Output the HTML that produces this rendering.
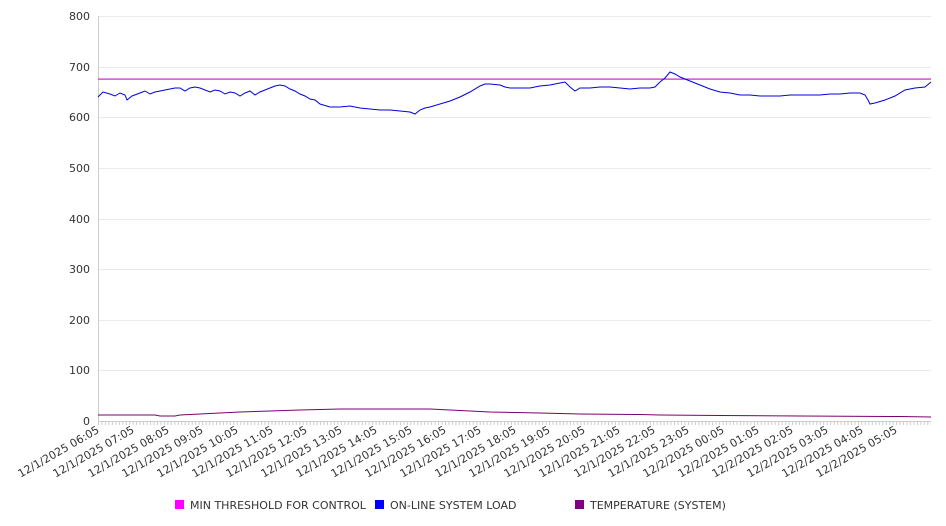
<!DOCTYPE html>
<html><head><meta charset="utf-8"><style>
html,body{margin:0;padding:0;background:#fff;}
svg{display:block;font-family:"DejaVu Sans","Liberation Sans",sans-serif;}
</style></head><body>
<svg width="946" height="526" viewBox="0 0 946 526" xmlns="http://www.w3.org/2000/svg">
<defs>
<pattern id="tk" x="98" y="0" width="3.47" height="10" patternUnits="userSpaceOnUse">
<line x1="0.5" y1="0" x2="0.5" y2="10" stroke="#ccc" stroke-width="1"/>
</pattern>
</defs>
<g stroke="#ebebeb" stroke-width="1">
<line x1="98" y1="16.5" x2="931" y2="16.5"/>
<line x1="98" y1="67.5" x2="931" y2="67.5"/>
<line x1="98" y1="117.5" x2="931" y2="117.5"/>
<line x1="98" y1="168.5" x2="931" y2="168.5"/>
<line x1="98" y1="219.5" x2="931" y2="219.5"/>
<line x1="98" y1="269.5" x2="931" y2="269.5"/>
<line x1="98" y1="320.5" x2="931" y2="320.5"/>
<line x1="98" y1="370.5" x2="931" y2="370.5"/>
</g>
<line x1="98.5" y1="16" x2="98.5" y2="421" stroke="#ccc"/>
<line x1="98" y1="421.5" x2="931" y2="421.5" stroke="#ccc"/>
<rect x="98" y="421" width="833" height="4" fill="url(#tk)"/>
<g font-size="11" fill="#333" text-anchor="end">
<text x="90" y="20">800</text><text x="90" y="71">700</text><text x="90" y="121">600</text>
<text x="90" y="172">500</text><text x="90" y="223">400</text><text x="90" y="273">300</text>
<text x="90" y="324">200</text><text x="90" y="374">100</text><text x="90" y="425">0</text>
</g>
<rect x="98" y="78.5" width="833" height="1.2" fill="#d41cd4"/>
<polyline fill="none" stroke="#0000dd" stroke-width="1" points="98,97 103,92 110,94 115,96 120,93 125,95 127,100 132,96 140,93 145,91 150,94 155,92 160,91 165,90 170,89 175,88 180,88 185,91 190,88 195,87 200,88 205,90 210,92 215,90 220,91 225,94 230,92 235,93 240,96 245,93 250,91 255,95 260,92 265,90 270,88 275,86 280,85 285,86 290,89 295,91 300,94 305,96 310,99 315,100 320,104 330,107 340,107 350,106 355,107 360,108 370,109 380,110 390,110 400,111 410,112 415,114 420,110 425,108 430,107 440,104 450,101 460,97 470,92 480,86 485,84 490,84 500,85 505,87 510,88 520,88 530,88 540,86 550,85 560,83 565,82 570,87 575,91 580,88 590,88 600,87 610,87 620,88 630,89 640,88 650,88 655,87 660,82 665,78 670,72 675,74 680,77 690,81 700,85 710,89 720,92 730,93 740,95 750,95 760,96 770,96 780,96 790,95 800,95 810,95 820,95 830,94 840,94 850,93 860,93 865,95 868,100 870,104 875,103 885,100 895,96 905,90 915,88 925,87 931,82"/>
<polyline fill="none" stroke="#7a0070" stroke-width="1" points="98,415 155,415 160,416 175,416 180,415 200,414 220,413 240,412 270,411 300,410 340,409 430,409 460,410.5 490,412 540,413 580,414 640,414.5 660,415 720,415.5 800,416 900,416.5 931,417"/>
<g font-size="11" fill="#333" text-anchor="end">
<text transform="translate(100,432) rotate(-30)">12/1/2025 06:05</text>
<text transform="translate(135,432) rotate(-30)">12/1/2025 07:05</text>
<text transform="translate(170,432) rotate(-30)">12/1/2025 08:05</text>
<text transform="translate(204,432) rotate(-30)">12/1/2025 09:05</text>
<text transform="translate(239,432) rotate(-30)">12/1/2025 10:05</text>
<text transform="translate(274,432) rotate(-30)">12/1/2025 11:05</text>
<text transform="translate(308,432) rotate(-30)">12/1/2025 12:05</text>
<text transform="translate(343,432) rotate(-30)">12/1/2025 13:05</text>
<text transform="translate(378,432) rotate(-30)">12/1/2025 14:05</text>
<text transform="translate(413,432) rotate(-30)">12/1/2025 15:05</text>
<text transform="translate(447,432) rotate(-30)">12/1/2025 16:05</text>
<text transform="translate(482,432) rotate(-30)">12/1/2025 17:05</text>
<text transform="translate(517,432) rotate(-30)">12/1/2025 18:05</text>
<text transform="translate(551,432) rotate(-30)">12/1/2025 19:05</text>
<text transform="translate(586,432) rotate(-30)">12/1/2025 20:05</text>
<text transform="translate(621,432) rotate(-30)">12/1/2025 21:05</text>
<text transform="translate(656,432) rotate(-30)">12/1/2025 22:05</text>
<text transform="translate(690,432) rotate(-30)">12/1/2025 23:05</text>
<text transform="translate(725,432) rotate(-30)">12/2/2025 00:05</text>
<text transform="translate(760,432) rotate(-30)">12/2/2025 01:05</text>
<text transform="translate(794,432) rotate(-30)">12/2/2025 02:05</text>
<text transform="translate(829,432) rotate(-30)">12/2/2025 03:05</text>
<text transform="translate(864,432) rotate(-30)">12/2/2025 04:05</text>
<text transform="translate(898,432) rotate(-30)">12/2/2025 05:05</text>
</g>
<g font-size="11" fill="#333">
<rect x="175" y="500" width="9" height="9" fill="#ff00ff"/><text x="190" y="509">MIN THRESHOLD FOR CONTROL</text>
<rect x="375" y="500" width="9" height="9" fill="#0000ff"/><text x="390" y="509">ON-LINE SYSTEM LOAD</text>
<rect x="575" y="500" width="9" height="9" fill="#800080"/><text x="590" y="509">TEMPERATURE (SYSTEM)</text>
</g>
</svg>
</body></html>
